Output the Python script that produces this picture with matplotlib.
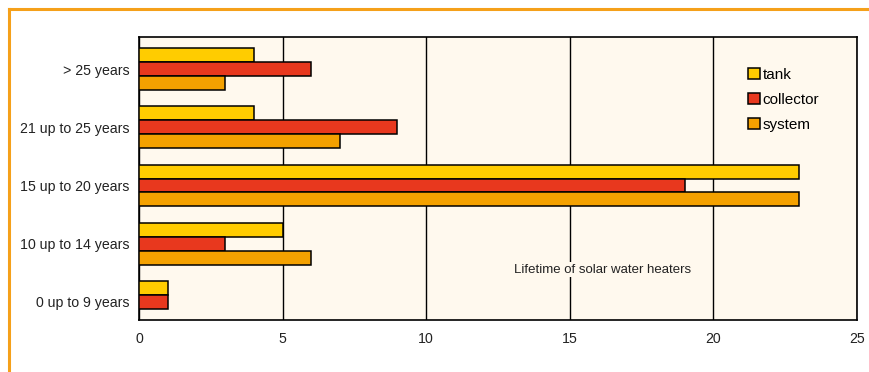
import matplotlib.pyplot as plt
import numpy as np
from matplotlib.lines import Line2D

plt.rcParams["font.family"] = ["Liberation Sans", "DejaVu Sans"]

# 수명 구간 (아래에서 위로)
categories = ["0 up to 9 years", "10 up to 14 years", "15 up to 20 years",
              "21 up to 25 years", "> 25 years"]
tank = [1, 5, 23, 4, 4]
collector = [1, 3, 19, 9, 6]
system = [0, 6, 23, 7, 3]
series_names = ["tank", "collector", "system"]
colors = ["#FFCC00", "#E8381E", "#F4A100"]

fig = plt.figure(figsize=(8.7, 3.72), dpi=100)
ax = fig.add_axes([0.1598, 0.1398, 0.825, 0.7607])
ax.set_facecolor("#FFF9EE")

index = np.arange(len(categories))
barH = 0.24
offsets = [barH, 0, -barH]
for vals, off, c, name in zip([tank, collector, system], offsets, colors, series_names):
    ax.barh(index + off, vals, height=barH, color=c, edgecolor="black",
            linewidth=1.1, label=name, zorder=3)

ax.set_xlim(0, 25)
ax.set_ylim(-0.31, 4.55)
ax.set_xticks([0, 5, 10, 15, 20, 25])
ax.set_yticks(index)
ax.set_yticklabels(categories)
ax.tick_params(length=0, labelsize=10.2, colors="#222222", pad=7)
ax.tick_params(axis="x", pad=9)
ax.xaxis.grid(True, color="black", linewidth=1, zorder=0)
ax.set_axisbelow(True)
for s in ax.spines.values():
    s.set_linewidth(1.2)

ax.text(16.15, 0.55, "Lifetime of solar water heaters", fontsize=9.5,
        ha="center", va="center", color="#222222", zorder=2,
        bbox=dict(facecolor="#FFF9EE", edgecolor="none", pad=1))

leg = ax.legend(loc="upper left", bbox_to_anchor=(0.84, 0.912), frameon=False,
                fontsize=11, handlelength=0.75, handleheight=0.75,
                handletextpad=0.2, labelspacing=0.72, borderaxespad=0)

# 바깥 주황색 테두리 (위쪽, 왼쪽)
fig.add_artist(Line2D([9 / 870, 1], [1 - 8.5 / 372, 1 - 8.5 / 372],
                      color="#F5A01A", linewidth=2.2, transform=fig.transFigure))
fig.add_artist(Line2D([9.5 / 870, 9.5 / 870], [0, 1 - 8.5 / 372],
                      color="#F5A01A", linewidth=2.2, transform=fig.transFigure))

plt.savefig("out.png", dpi=100)
